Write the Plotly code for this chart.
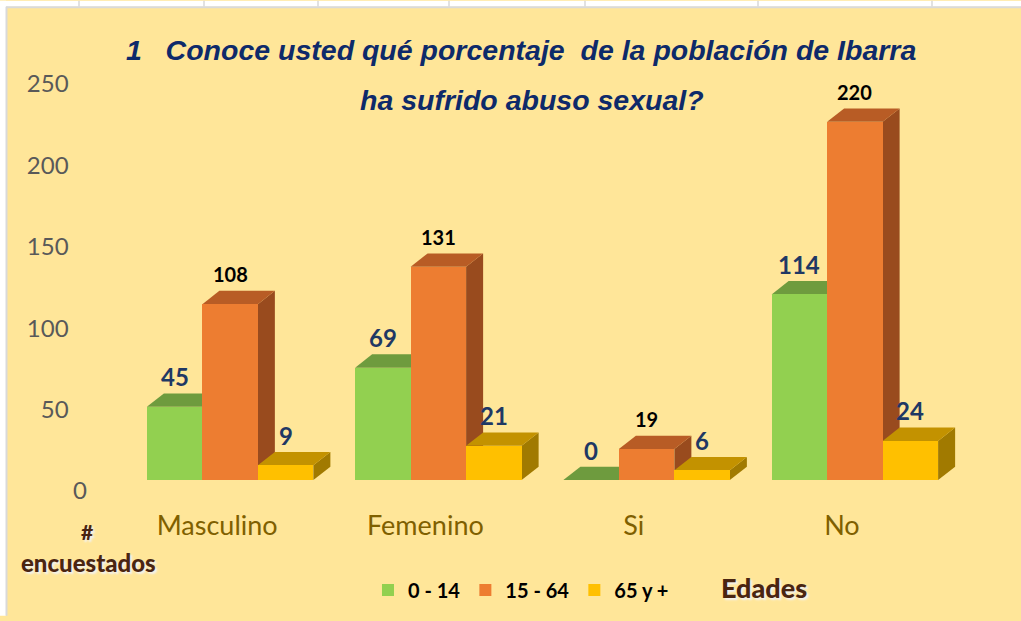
import plotly.graph_objects as go

# ---- data ----
categories = ["Masculino", "Femenino", "Si", "No"]
series_names = ["0 - 14", "15 - 64", "65 y +"]
s_0_14 = [45, 69, 0, 114]
s_15_64 = [108, 131, 19, 220]
s_65 = [9, 21, 6, 24]
y_ticks = [0, 50, 100, 150, 200, 250]
y_tick_text = ["0", "50" + "\u00a0" * 3, "100" + "\u00a0" * 3, "150" + "\u00a0" * 3,
               "200" + "\u00a0" * 3, "250" + "\u00a0" * 3]

series = [s_0_14, s_15_64, s_65]
front = ["#92D050", "#ED7D31", "#FFC000"]
topc = ["#6E9B3E", "#B85C25", "#C39200"]
sidec = ["#55802C", "#994B1E", "#A17A00"]
label_col = ["#1F3864", "#000000", "#1F3864"]
label_size = [24, 20, 24]

W = 0.2665      # bar width (category units)
DX = 0.0816     # 3D depth offset, x
DY = 8.2        # 3D depth offset, y (value units)

fig = go.Figure()
shapes = []
annotations = []

for i in range(len(categories)):
    for k, vals in enumerate(series):
        v = vals[i]
        x0 = i + (k - 1.5) * W
        x1 = x0 + W
        # side face
        shapes.append(dict(type="path", xref="x", yref="y", layer="below",
                           path=f"M {x1},0 L {x1},{v} L {x1+DX},{v+DY} L {x1+DX},{DY} Z",
                           fillcolor=sidec[k], line=dict(width=0)))
        # top face
        shapes.append(dict(type="path", xref="x", yref="y", layer="below",
                           path=f"M {x0},{v} L {x1},{v} L {x1+DX},{v+DY} L {x0+DX},{v+DY} Z",
                           fillcolor=topc[k], line=dict(width=0)))
        annotations.append(dict(x=(x0 + x1) / 2, y=v, xref="x", yref="y", text=f"<b>{v}</b>",
                                showarrow=False, yshift=30, yanchor="middle", xanchor="center",
                                font=dict(family="Lato, Open Sans, sans-serif", size=label_size[k],
                                          color=label_col[k])))

for k, vals in enumerate(series):
    fig.add_trace(go.Bar(
        x=[i + (k - 1) * W for i in range(len(categories))],
        y=vals, width=W, name=series_names[k],
        marker=dict(color=front[k], line=dict(width=0)),
        hoverinfo="y"))

title_font = dict(family="Liberation Sans, Arial, sans-serif",
                  color="#0E2A6A", style="italic", weight="bold")
annotations.append(dict(x=0.474, y=1.056, xref="paper", yref="paper", showarrow=False,
                        text="1\u00a0\u00a0\u00a0Conoce usted qué porcentaje\u00a0\u00a0de la población de Ibarra",
                        font=dict(title_font, size=28.5), xanchor="center", yanchor="middle"))
annotations.append(dict(x=0.4874, y=0.934, xref="paper", yref="paper", showarrow=False,
                        text="ha sufrido abuso sexual?",
                        font=dict(title_font, size=28.5), xanchor="center", yanchor="middle"))

brown = dict(family="Lato, Open Sans, sans-serif", color="#4A2511", weight=900,
             shadow="2px 2px 2px #F2F2F2")
annotations.append(dict(x=-0.0468, y=-0.1265, xref="paper", yref="paper", showarrow=False,
                        xanchor="center", yanchor="middle",
                        text="#", font=dict(brown, size=21)))
annotations.append(dict(x=-0.0456, y=-0.202, xref="paper", yref="paper", showarrow=False,
                        xanchor="center", yanchor="middle",
                        text="encuestados", font=dict(brown, size=24)))
annotations.append(dict(x=0.766, y=-0.263, xref="paper", yref="paper", showarrow=False,
                        xanchor="center", yanchor="middle",
                        text="Edades", font=dict(brown, size=27)))

# frame decorations (sheet edge)
shapes.append(dict(type="rect", xref="paper", yref="paper", layer="above",
                   x0=-0.2, x1=1.2, y0=(484 - 0) / 411, y1=(484 - 6) / 411,
                   fillcolor="#FFFFFF", line=dict(width=0)))
shapes.append(dict(type="line", xref="paper", yref="paper", layer="above",
                   x0=(6 - 126) / 833, x1=1.2, y0=(484 - 6.5) / 411, y1=(484 - 6.5) / 411,
                   line=dict(color="#D9D9D9", width=2)))
shapes.append(dict(type="rect", xref="paper", yref="paper", layer="above",
                   x0=(0 - 126) / 833, x1=(6 - 126) / 833, y0=(484 - 621) / 411, y1=(484 - 0) / 411,
                   fillcolor="#FFFFFF", line=dict(width=0)))
shapes.append(dict(type="line", xref="paper", yref="paper", layer="above",
                   x0=(6.5 - 126) / 833, x1=(6.5 - 126) / 833, y0=(484 - 621) / 411, y1=(484 - 6) / 411,
                   line=dict(color="#D9D9D9", width=2)))
for px in [79, 204, 318, 449, 585, 758, 932]:
    shapes.append(dict(type="line", xref="paper", yref="paper", layer="above",
                       x0=(px - 126) / 833, x1=(px - 126) / 833, y0=(484 - 0) / 411, y1=(484 - 6) / 411,
                       line=dict(color="#D9D9D9", width=1.5)))

fig.update_layout(
    width=1021, height=621,
    margin=dict(l=126, r=62, t=73, b=137),
    paper_bgcolor="#FFE699", plot_bgcolor="rgba(0,0,0,0)",
    barmode="overlay", bargap=0,
    showlegend=True,
    legend=dict(orientation="h", x=0.2905, y=-0.27, xanchor="left", yanchor="middle",
                font=dict(family="Lato, Open Sans, sans-serif", size=20, color="#000000", weight="bold"),
                bgcolor="rgba(0,0,0,0)", itemclick=False),
    shapes=shapes, annotations=annotations,
    xaxis=dict(range=[-0.5, 3.5], tickvals=list(range(len(categories))), ticktext=categories,
               showgrid=False, zeroline=False, showline=False, ticks="",
               ticklabelshift=-13, ticklabelstandoff=27,
               tickfont=dict(family="Lato, Open Sans, sans-serif", size=27, color="#7F6000"),
               fixedrange=True),
    yaxis=dict(range=[0, 250], tickvals=y_ticks, ticktext=y_tick_text,
               showgrid=False, zeroline=False, showline=False,
               ticks="", ticklabelshift=11, ticklabelstandoff=38,
               tickfont=dict(family="Lato, Open Sans, sans-serif", size=24, color="#595959"),
               fixedrange=True),
)

fig.write_html("out.html", config={"displayModeBar": False},
               post_script="document.body.style.margin='0';document.body.style.overflow='hidden';")
